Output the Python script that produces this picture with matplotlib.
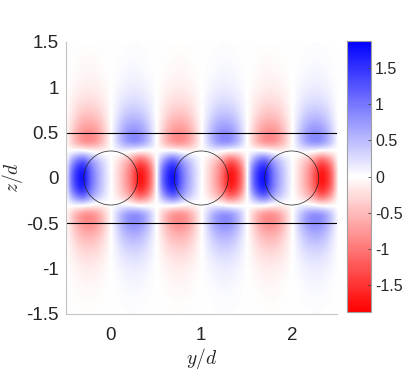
import matplotlib
matplotlib.use('Agg')
import matplotlib.pyplot as plt
import numpy as np
from matplotlib.colors import LinearSegmentedColormap
from matplotlib.patches import Circle

plt.rcParams['font.family'] = ['Liberation Sans', 'DejaVu Sans']
plt.rcParams['mathtext.fontset'] = 'cm'

# Field, one quarter of a period.
# Columns are y/d = 0, 0.05 ... 0.5, rows are z/d = 0, 0.1 ... 1.5
field_y = [0, .05, .1, .15, .2, .25, .3, .35, .4, .45, .5]
field_z = [0, .1, .2, .3, .4, .5, .6, .7, .8, .9, 1.0, 1.1, 1.2, 1.3, 1.4, 1.5]
field_quarter = [
    [0, -.20, -.42, -.68, -.95, -1.3, -1.85, -1.75, -1.45, -.95, 0],
    [0, -.19, -.40, -.63, -.90, -1.25, -1.7, -1.65, -1.35, -.90, 0],
    [0, -.14, -.30, -.48, -.65, -.90, -1.2, -1.15, -.90, -.50, 0],
    [0, .05, .08, .08, .05, .02, -.02, -.03, -.02, 0, 0],
    [0, .28, .55, .78, .92, .98, .95, .82, .62, .34, 0],
    [0, .26, .50, .70, .82, .86, .82, .70, .50, .26, 0],
    [0, .20, .39, .54, .62, .65, .62, .54, .39, .20, 0],
    [0, .14, .27, .38, .44, .46, .44, .38, .27, .14, 0],
    [0, .10, .19, .26, .30, .31, .30, .26, .19, .10, 0],
    [0, .07, .13, .17, .20, .21, .20, .17, .13, .07, 0],
    [0, .04, .08, .11, .13, .14, .13, .11, .08, .04, 0],
    [0, .03, .05, .07, .09, .09, .09, .07, .05, .03, 0],
    [0, .02, .03, .05, .06, .06, .06, .05, .03, .02, 0],
    [0, .01, .02, .03, .04, .04, .04, .03, .02, .01, 0],
    [0, .01, .01, .02, .02, .03, .02, .02, .01, .01, 0],
    [0, .00, .01, .01, .01, .02, .01, .01, .01, .00, 0],
]
cylinder_y = [0, 1, 2]
cylinder_r = 0.298
interface_z = [0.5, -0.5]
color_limit = 1.88
y_ticks = [0, 1, 2]
z_ticks = [-1.5, -1, -0.5, 0, 0.5, 1, 1.5]
z_labels = ['-1.5', '-1', '-0.5', '0', '0.5', '1', '1.5']
cbar_ticks = [-1.5, -1, -0.5, 0, 0.5, 1, 1.5]
cbar_labels = ['-1.5', '-1', '-0.5', '0', '0.5', '1', '1.5']

# Mirror the quarter out to one period, odd in y and even in z, then repeat it
q = np.array(field_quarter)
half = np.hstack([-q[:, :0:-1], q])
period = np.vstack([half[:0:-1], half])
grid = np.hstack([period[:, :-1]] * 3 + [period[:, -1:]])
dy = field_y[1] - field_y[0]
dz = field_z[1] - field_z[0]

cmap = LinearSegmentedColormap.from_list('rwb', ['#ff0000', '#ffffff', '#0000ff'], N=256)

fig = plt.figure(figsize=(4.15, 3.81), dpi=100)
ax = fig.add_axes([65.5 / 415, 1 - 314 / 381, 271.5 / 415, 272 / 381])

im = ax.imshow(grid, cmap=cmap, vmin=-color_limit, vmax=color_limit, origin='lower',
               aspect='auto', interpolation='bicubic',
               extent=[-0.5 - dy / 2, 2.5 + dy / 2, -1.5 - dz / 2, 1.5 + dz / 2])

for z in interface_z:
    ax.axhline(z, color='black', lw=0.8)
for y in cylinder_y:
    ax.add_patch(Circle((y, 0), cylinder_r, fill=False, edgecolor='#222222', lw=0.5))

ax.set_xlim(-0.5, 2.5)
ax.set_ylim(-1.5, 1.5)
ax.set_xticks(y_ticks)
ax.set_yticks(z_ticks)
ax.set_yticklabels(z_labels)
ax.tick_params(length=0, labelsize=13.5, labelcolor='#262626')
ax.tick_params(axis='x', pad=9)
ax.tick_params(axis='y', pad=5)
ax.set_xlabel(r'$y/d$', fontsize=14, labelpad=2, color='#262626')
ax.set_ylabel(r'$z/d$', fontsize=14, labelpad=1, color='#262626')

ax.spines['top'].set_visible(False)
ax.spines['right'].set_visible(False)
for side in ['left', 'bottom']:
    ax.spines[side].set_color('#c4c4c4')
    ax.spines[side].set_linewidth(0.8)

# Colour bar
cax = fig.add_axes([347 / 415, 1 - 312 / 381, 24 / 415, 271 / 381])
cb = fig.colorbar(im, cax=cax)
cb.set_ticks(cbar_ticks)
cb.set_ticklabels(cbar_labels)
cax.tick_params(direction='in', length=2.5, width=0.6, color='#404040', labelsize=11.5, labelcolor='#262626', pad=3)
cb.outline.set_edgecolor('#a0a0a0')
cb.outline.set_linewidth(0.8)

fig.savefig('out.png', dpi=100)
